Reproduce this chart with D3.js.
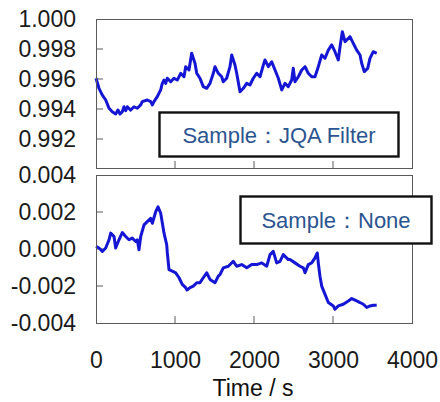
<!DOCTYPE html>
<html>
<head>
<meta charset="utf-8">
<script src="https://cdn.jsdelivr.net/npm/d3@7"></script>
<style>
  body { margin: 0; background: #fff; }
  svg text { font-family: "Liberation Sans", Arial, sans-serif; }
</style>
</head>
<body>
<div id="chart"></div>
<script>
// Global Variables :
var width = 440,
    height = 402;

// data (time in s)
var timeTop = [0, 38, 80, 123, 165, 206, 249, 278, 304, 333, 354, 376, 396, 439, 481, 523, 566, 586, 649, 692,
  713, 734, 776, 819, 839, 861, 882, 903, 946, 987, 1029, 1072, 1114, 1135, 1177, 1211, 1253, 1275, 1316, 1358,
  1401, 1443, 1485, 1506, 1548, 1591, 1611, 1654, 1696, 1718, 1759, 1781, 1823, 1865, 1908, 1949, 1991, 2034, 2076, 2118,
  2139, 2181, 2224, 2266, 2308, 2351, 2392, 2434, 2477, 2497, 2519, 2561, 2604, 2646, 2687, 2730, 2772, 2814, 2857, 2899,
  2941, 2984, 3025, 3067, 3089, 3118, 3152, 3215, 3257, 3300, 3342, 3363, 3396, 3439, 3468, 3510, 3553];
var valueTop = [0.99605, 0.99538, 0.99493, 0.99460, 0.99405, 0.99382, 0.99367, 0.99393, 0.99367, 0.99382,
  0.99415, 0.99389, 0.99415, 0.99393, 0.99415, 0.99405, 0.99427, 0.99449, 0.99460, 0.99449,
  0.99427, 0.99449, 0.99482, 0.99527, 0.99571, 0.99593, 0.99571, 0.99605, 0.99582, 0.99605,
  0.99593, 0.99638, 0.99615, 0.99682, 0.99660, 0.99771, 0.99705, 0.99638, 0.99605, 0.99549,
  0.99538, 0.99571, 0.99638, 0.99682, 0.99638, 0.99615, 0.99582, 0.99605, 0.99682, 0.99760,
  0.99693, 0.99638, 0.99515, 0.99538, 0.99571, 0.99560, 0.99605, 0.99638, 0.99615, 0.99693,
  0.99727, 0.99682, 0.99715, 0.99660, 0.99605, 0.99527, 0.99571, 0.99549, 0.99593, 0.99671,
  0.99582, 0.99615, 0.99660, 0.99682, 0.99638, 0.99615, 0.99615, 0.99682, 0.99760, 0.99738,
  0.99793, 0.99827, 0.99782, 0.99727, 0.99815, 0.99915, 0.99849, 0.99882, 0.99838, 0.99793,
  0.99760, 0.99705, 0.99649, 0.99671, 0.99738, 0.99782, 0.99771];

var timeBottom = [0, 38, 80, 123, 165, 186, 228, 249, 291, 333, 376, 418, 459, 503, 523, 544, 566, 608, 649, 692,
  713, 756, 785, 819, 861, 895, 903, 924, 966, 1009, 1051, 1092, 1135, 1152, 1190, 1232, 1275, 1316, 1358, 1401,
  1443, 1506, 1548, 1570, 1611, 1675, 1738, 1781, 1844, 1908, 1971, 2034, 2097, 2161, 2203, 2244, 2287, 2329, 2371, 2434,
  2456, 2519, 2582, 2624, 2646, 2687, 2730, 2772, 2801, 2814, 2835, 2857, 2899, 2941, 3004, 3025, 3067, 3130, 3194, 3237,
  3300, 3342, 3384, 3427, 3468, 3510, 3553];
var valueBottom = [0.000139, 0.000054, -0.000129, 0.000054, 0.000498, 0.000858, 0.000675, 0.000054, 0.000498, 0.000890,
  0.000675, 0.000498, 0.000590, 0.000407, 0.000498, -0.000038, 0.000675, 0.001302, 0.001479, 0.001662,
  0.001394, 0.002015, 0.002283, 0.001930, 0.000858, 0.000230, -0.000214, -0.001110, -0.001200, -0.001286,
  -0.001554, -0.001914, -0.002090, -0.002219, -0.002090, -0.002005, -0.001822, -0.001822, -0.001554, -0.001286,
  -0.001646, -0.001822, -0.001469, -0.001378, -0.001018, -0.000933, -0.000665, -0.000933, -0.000842, -0.001018,
  -0.000842, -0.000842, -0.000750, -0.000933, -0.000306, -0.000129, -0.000750, -0.000665, -0.000306, -0.000574,
  -0.000574, -0.000750, -0.000933, -0.001018, -0.001286, -0.000842, -0.000750, -0.000482, -0.000214, -0.000750,
  -0.001469, -0.002005, -0.002450, -0.002894, -0.003077, -0.003254, -0.003077, -0.002986, -0.002809, -0.002680,
  -0.002809, -0.002894, -0.002986, -0.003163, -0.003077, -0.003039, -0.003039];

var xTicks = [0, 1000, 2000, 3000, 4000];
var yTopTicks = [1.000, 0.998, 0.996, 0.994, 0.992];
var yBottomTicks = [0.004, 0.002, 0.000, -0.002, -0.004];
var labelTop = "Sample\uFF1AJQA Filter",
    labelBottom = "Sample\uFF1ANone";

var line_color = "#1515d4",
    frame_color = "#5a5a5a";

var svg = d3.select("#chart").append("svg")
  .attr("width", width)
  .attr("height", height);

var x = d3.scaleLinear().domain([0, 4000]).range([96, 412]);
var yTop = d3.scaleLinear().domain([0.990, 1.000]).range([169, 19]);
var yBottom = d3.scaleLinear().domain([-0.004, 0.004]).range([323, 175]);

function drawPanel(y, top, bottom, ticks, times, values) {
  var g = svg.append("g");

  // inner ticks (no tick at the panel edges)
  var inner = ticks.filter(function(d) { return y(d) > top + 2 && y(d) < bottom - 2; });
  g.selectAll(".ytick").data(inner).enter().append("line")
    .attr("x1", x(0)).attr("x2", x(0) + 7)
    .attr("y1", function(d) { return y(d); })
    .attr("y2", function(d) { return y(d); })
    .style("stroke", frame_color).style("stroke-width", 1);
  g.selectAll(".xtick").data([1000, 2000, 3000]).enter().append("line")
    .attr("x1", function(d) { return x(d); })
    .attr("x2", function(d) { return x(d); })
    .attr("y1", bottom).attr("y2", bottom - 7)
    .style("stroke", frame_color).style("stroke-width", 1);

  var pts = times.map(function(t, i) { return [t, values[i]]; });
  g.append("path")
    .datum(pts)
    .attr("d", d3.line().x(function(d) { return x(d[0]); }).y(function(d) { return y(d[1]); }))
    .style("fill", "none")
    .style("stroke", line_color)
    .style("stroke-width", 3)
    .style("stroke-linejoin", "round");

  g.append("rect")
    .attr("x", x(0) + 0.5).attr("y", top + 0.5)
    .attr("width", x(4000) - x(0)).attr("height", bottom - top)
    .style("fill", "none").style("stroke", frame_color).style("stroke-width", 1);

  // labels
  var axis = d3.axisLeft(y).tickValues(ticks).tickSize(0).tickPadding(20);
  var a = svg.append("g").attr("transform", "translate(" + x(0) + ",0)").call(axis);
  a.select(".domain").remove();
  a.selectAll("text").style("font-size", "23px").style("fill", "#1a1a1a")
    .style("font-family", '"Liberation Sans", Arial, sans-serif')
    .text(function(d) { return d3.format(".3f")(d).replace("\u2212", "-"); });
}

drawPanel(yTop, 19, 168, yTopTicks, timeTop, valueTop);
drawPanel(yBottom, 175, 323, yBottomTicks, timeBottom, valueBottom);

// x axis labels
var xAxis = d3.axisBottom(x).tickValues(xTicks).tickSize(0).tickPadding(29).tickFormat(d3.format("d"));
var xa = svg.append("g").attr("transform", "translate(0,323)").call(xAxis);
xa.select(".domain").remove();
xa.selectAll("text").style("font-size", "23px").style("fill", "#1a1a1a")
  .style("font-family", '"Liberation Sans", Arial, sans-serif');

svg.append("text")
  .attr("x", 253).attr("y", 396)
  .attr("text-anchor", "middle")
  .style("font-size", "23px").style("fill", "#111")
  .text("Time / s");

// legend boxes
function legendBox(x0, y0, w, h, label) {
  svg.append("rect")
    .attr("x", x0).attr("y", y0).attr("width", w).attr("height", h)
    .style("fill", "#fff").style("stroke", "#111").style("stroke-width", 2.4);
  svg.append("text")
    .attr("x", x0 + w / 2).attr("y", y0 + h / 2 + 8)
    .attr("text-anchor", "middle")
    .style("font-size", "22px").style("fill", "#2b5590")
    .text(label);
}
legendBox(159.5, 112.5, 239, 44, labelTop);
legendBox(240.5, 196.5, 191, 47, labelBottom);
</script>
</body>
</html>
